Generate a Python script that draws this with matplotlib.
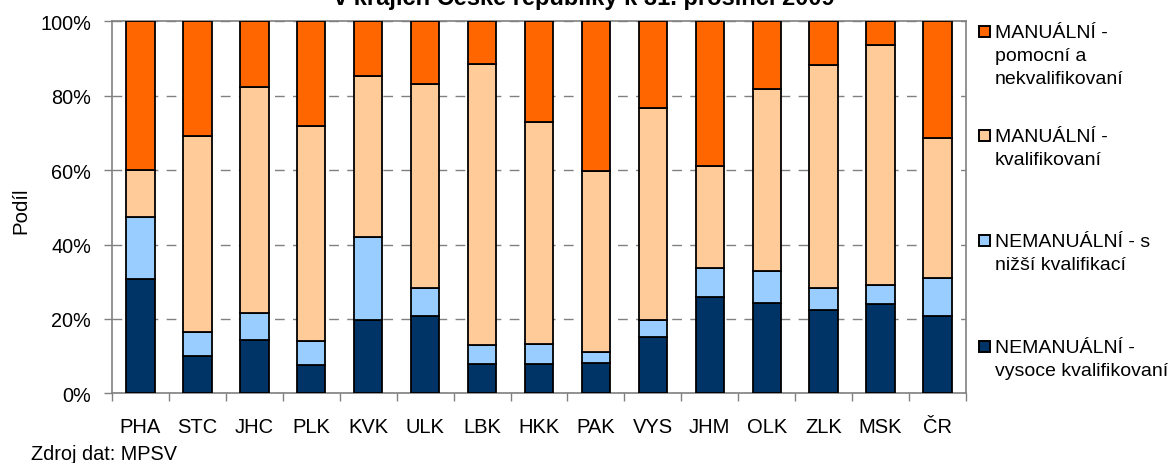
import matplotlib
matplotlib.use("Agg")
import matplotlib.pyplot as plt
from matplotlib.patches import Rectangle
import numpy as np

plt.rcParams['font.family'] = ['Liberation Sans', 'DejaVu Sans']

categories = ["PHA", "STC", "JHC", "PLK", "KVK", "ULK", "LBK", "HKK", "PAK", "VYS",
              "JHM", "OLK", "ZLK", "MSK", "ČR"]
nem_vysoce = [30.7, 10.1, 14.4, 7.6, 19.8, 20.9, 7.9, 7.9, 8.1, 15.2, 25.8, 24.3, 22.4, 24.0, 20.9]
nem_nizsi = [16.6, 6.3, 7.1, 6.4, 22.1, 7.4, 5.2, 5.4, 2.9, 4.5, 8.0, 8.7, 5.8, 5.1, 10.1]
man_kval = [12.7, 52.7, 60.8, 57.9, 43.3, 54.8, 75.4, 59.5, 48.8, 56.9, 27.2, 48.8, 60.1, 64.5, 37.5]
man_pomoc = [40.0, 30.9, 17.7, 28.1, 14.8, 16.9, 11.5, 27.2, 40.2, 23.4, 39.0, 18.2, 11.7, 6.4, 31.5]

series = [
    (["NEMANUÁLNÍ -", "vysoce kvalifikovaní"], nem_vysoce, "#003366"),
    (["NEMANUÁLNÍ - s", "nižší kvalifikací"], nem_nizsi, "#99CCFF"),
    (["MANUÁLNÍ -", "kvalifikovaní"], man_kval, "#FFCC99"),
    (["MANUÁLNÍ -", "pomocní a", "nekvalifikovaní"], man_pomoc, "#FF6600"),
]
title = "v krajích České republiky k 31. prosinci 2009"
ylabel = "Podíl"
source = "Zdroj dat: MPSV"

W, H = 1170, 464
fig = plt.figure(figsize=(W / 100, H / 100), dpi=100)
ax = fig.add_axes([112 / W, 1 - 394.3 / H, (966 - 112) / W, (394.3 - 22.3) / H])

x = np.arange(len(categories))
tot = np.array(nem_vysoce) + np.array(nem_nizsi) + np.array(man_kval) + np.array(man_pomoc)
bottom = np.zeros(len(categories))
for name, vals, col in series:
    v = np.array(vals, dtype=float) / tot * 100
    ax.bar(x, v, 0.5, bottom=bottom, color=col, edgecolor="black", linewidth=1.3, zorder=3)
    bottom += v

ax.set_xlim(-0.5, len(categories) - 0.5)
ax.set_ylim(0, 100)
ax.set_yticks([0, 20, 40, 60, 80, 100])
ax.set_yticklabels(["0%", "20%", "40%", "60%", "80%", "100%"])
ax.set_xticks(x)
ax.set_xticklabels(categories)
ax.set_xticks(np.arange(-0.5, len(categories), 1.0), minor=True)
ax.tick_params(axis="x", which="major", length=0, pad=17, labelsize=14.5)
ax.tick_params(axis="x", which="minor", length=6, color="#808080", width=1)
ax.tick_params(axis="y", length=6, color="#808080", width=1, pad=9, labelsize=14.3)
for s in ax.spines.values():
    s.set_color("#808080")
    s.set_linewidth(1.2)
ax.yaxis.grid(True, color="#808080", linewidth=1, dashes=(7, 6), zorder=0)
ax.set_axisbelow(True)

fig.text(21 / W, 1 - 211 / H, ylabel, rotation=90, ha="center", va="center", fontsize=14.7)
fig.text(31 / W, 1 - 460 / H, source, ha="left", va="baseline", fontsize=14.3)
fig.text(584 / W, 1 - 4.5 / H, title, ha="center", va="baseline", fontsize=17, fontweight="bold")

# legend (top entry is the last series)
legend_base = [37.7, 141.7, 247, 352.7]
pitch = 23.3
for (lines, vals, col), yb in zip(series[::-1], legend_base):
    fig.patches.append(Rectangle((978.5 / W, 1 - yb / H), 11 / W, 11 / H,
                                 transform=fig.transFigure, facecolor=col,
                                 edgecolor="black", linewidth=1.4))
    for k, line in enumerate(lines):
        fig.text(995 / W, 1 - (yb + k * pitch) / H, line, ha="left", va="baseline",
                 fontsize=14)

fig.savefig("out.png", dpi=100)
